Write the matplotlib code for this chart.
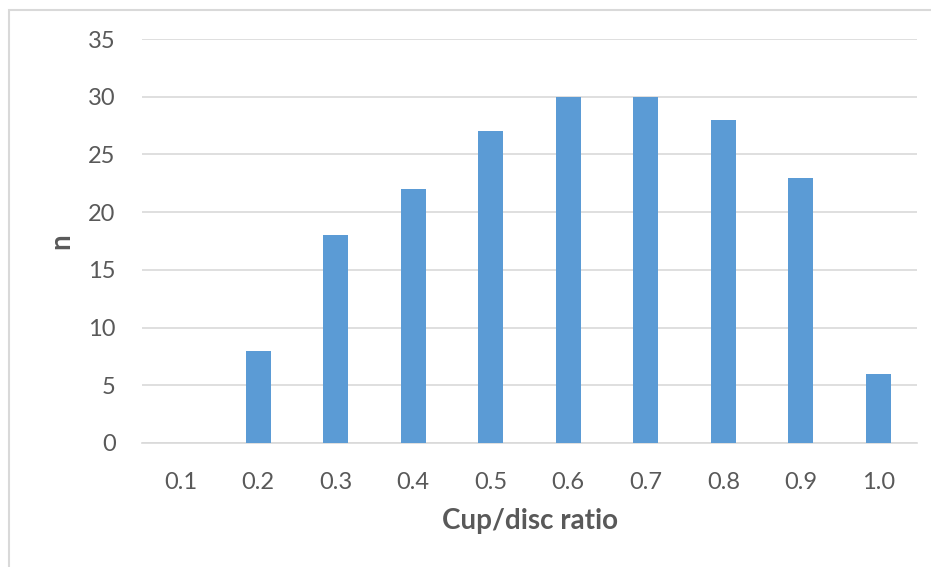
import matplotlib.pyplot as plt
from matplotlib.patches import Rectangle

ratios = ['0.1', '0.2', '0.3', '0.4', '0.5', '0.6', '0.7', '0.8', '0.9', '1.0']
counts = [0, 8, 18, 22, 27, 30, 30, 28, 23, 6]
yticks = [0, 5, 10, 15, 20, 25, 30, 35]

plt.rcParams['font.family'] = ['Lato', 'DejaVu Sans']
grey = '#595959'

fig = plt.figure(figsize=(9.31, 5.67), dpi=100)
ax = fig.add_axes([0.1525, 0.2187, 0.8325, 0.7125])

# chart area outline
fig.patches.append(Rectangle((8.5 / 931, -0.1), 1.1, 1.1 - 9.5 / 567,
                             transform=fig.transFigure, fill=False,
                             edgecolor='#D9D9D9', linewidth=1.5))

x = range(len(ratios))
ax.bar(x, counts, width=0.32, color='#5B9BD5', zorder=3)

ax.set_xlim(-0.5, len(ratios) - 0.5)
ax.set_ylim(0, 35)
ax.set_yticks(yticks)
ax.set_xticks(list(x))
ax.set_xticklabels(ratios)
ax.grid(axis='y', color='#D9D9D9', linewidth=1.2, zorder=0)
for s in ['top', 'right', 'left']:
    ax.spines[s].set_visible(False)
ax.spines['bottom'].set_color('#D9D9D9')
ax.spines['bottom'].set_linewidth(1.2)
ax.tick_params(length=0, labelsize=17, colors=grey)
ax.tick_params(axis='x', pad=21)
ax.tick_params(axis='y', pad=19)

ax.set_xlabel('Cup/disc ratio', fontsize=20, fontweight='bold', color=grey, labelpad=11)
ax.set_ylabel('n', fontsize=20, fontweight='bold', color=grey, labelpad=10)

plt.savefig('out.png', dpi=100)
plt.close(fig)
